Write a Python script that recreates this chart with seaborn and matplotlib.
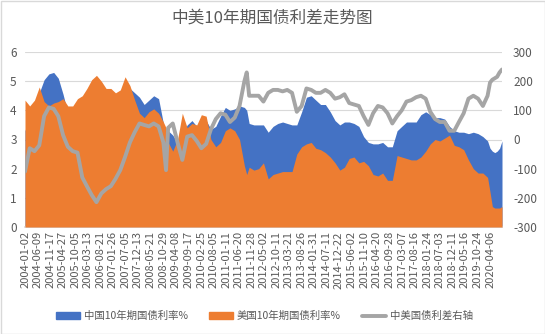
import matplotlib
matplotlib.use("Agg")
import matplotlib.pyplot as plt
from matplotlib.patches import Patch, Rectangle
from matplotlib.lines import Line2D
import seaborn as sns
import pandas as pd

dates = ["2004-01-01","2004-03-01","2004-05-01","2004-07-01","2004-09-01","2004-11-01",
         "2005-01-01","2005-03-01","2005-05-01","2005-07-01","2005-09-01","2005-11-01",
         "2006-01-01","2006-03-01","2006-05-01","2006-07-01","2006-09-01","2006-11-01",
         "2007-01-01","2007-03-01","2007-05-01","2007-07-01","2007-09-01","2007-11-01",
         "2008-01-01","2008-03-01","2008-05-01","2008-07-01","2008-09-01","2008-11-01","2008-12-05",
         "2009-01-01","2009-03-01","2009-05-01","2009-07-01","2009-09-01","2009-11-01",
         "2010-01-01","2010-03-01","2010-05-01","2010-07-01","2010-09-01","2010-11-01",
         "2011-01-01","2011-03-01","2011-05-01","2011-07-01","2011-09-01","2011-10-01","2011-11-01",
         "2012-01-01","2012-03-01","2012-05-01","2012-07-01","2012-09-01","2012-11-01",
         "2013-01-01","2013-03-01","2013-05-01","2013-07-01","2013-09-01","2013-11-01",
         "2014-01-01","2014-03-01","2014-05-01","2014-07-01","2014-09-01","2014-11-01",
         "2015-01-01","2015-03-01","2015-05-01","2015-07-01","2015-09-01","2015-11-01",
         "2016-01-01","2016-03-01","2016-05-01","2016-07-01","2016-09-01","2016-11-01",
         "2017-01-01","2017-03-01","2017-05-01","2017-07-01","2017-09-01","2017-11-01",
         "2018-01-01","2018-03-01","2018-05-01","2018-07-01","2018-09-01","2018-11-01",
         "2019-01-01","2019-03-01","2019-05-01","2019-07-01","2019-09-01","2019-11-01",
         "2020-01-01","2020-03-01","2020-04-01","2020-05-01","2020-06-01","2020-07-01",
         "2020-08-01","2020-09-01"]

us_10y = [4.35,4.15,4.35,4.80,4.30,4.15,
          4.25,4.30,4.40,4.15,4.15,4.40,
          4.50,4.75,5.05,5.20,5.00,4.75,
          4.75,4.60,4.70,5.15,4.85,4.35,
          3.90,3.75,3.95,4.05,3.90,3.60,3.40,
          2.90,2.60,3.00,3.90,3.40,3.55,
          3.50,3.85,3.80,3.00,2.75,2.90,
          3.30,3.40,3.30,3.00,2.10,1.80,2.05,
          1.95,2.00,2.20,1.65,1.80,1.85,
          1.90,1.90,1.90,2.50,2.75,2.85,
          2.90,2.70,2.65,2.55,2.40,2.20,
          1.95,2.05,2.35,2.40,2.20,2.25,
          2.10,1.80,1.75,1.85,1.60,1.60,
          2.45,2.40,2.35,2.30,2.30,2.40,
          2.60,2.85,3.00,2.95,3.05,3.15,
          2.80,2.75,2.65,2.30,2.00,1.85,
          1.85,1.70,1.20,0.70,0.65,0.65,
          0.65,0.70]

cn_10y = [3.30,3.85,3.95,4.60,5.05,5.25,
          5.30,5.10,4.55,3.90,3.75,3.95,
          3.20,3.15,3.15,3.05,3.15,3.05,
          3.15,3.25,3.65,4.55,4.75,4.60,
          4.45,4.20,4.35,4.50,4.40,3.55,2.60,
          3.30,3.15,2.90,3.20,3.50,3.65,
          3.45,3.55,3.65,3.35,3.45,3.80,
          4.10,4.00,4.05,4.15,4.10,4.00,3.55,
          3.50,3.50,3.50,3.25,3.45,3.55,
          3.60,3.55,3.50,3.50,3.95,4.45,
          4.50,4.35,4.20,4.20,3.95,3.65,
          3.50,3.60,3.60,3.55,3.45,3.10,
          2.90,2.85,2.85,2.90,2.75,2.75,
          3.30,3.45,3.60,3.60,3.60,3.85,
          3.95,3.85,3.75,3.75,3.70,3.45,
          3.30,3.25,3.25,3.20,3.25,3.20,
          3.10,2.95,2.70,2.60,2.55,2.60,
          2.70,2.95]

spread_bp = [-110,-30,-40,-20,80,110,
             105,80,15,-25,-40,-45,
             -130,-160,-190,-215,-185,-170,
             -160,-135,-105,-60,-10,25,
             55,50,45,55,45,-10,-105,
             40,55,-10,-70,10,15,
             -5,-30,-15,35,70,90,
             85,60,75,115,200,230,150,
             150,150,130,160,170,170,
             165,170,160,95,115,175,
             170,160,160,170,160,140,
             145,155,125,120,115,80,
             50,90,115,110,90,55,
             80,100,130,135,145,150,
             140,95,70,60,60,30,
             30,60,90,140,150,140,
             115,150,195,205,210,215,
             230,240]

tick_labels = ["2004-01-02","2004-06-09","2004-11-17","2005-04-27","2005-10-05","2006-03-13",
               "2006-08-21","2007-01-26","2007-07-05","2007-12-13","2008-05-21","2008-10-29",
               "2009-04-08","2009-09-17","2010-02-25","2010-08-05","2011-01-11","2011-06-20",
               "2011-11-28","2012-05-02","2012-10-11","2013-03-21","2013-08-26","2014-01-31",
               "2014-07-11","2014-12-22","2015-06-02","2015-11-10","2016-04-20","2016-09-28",
               "2017-03-07","2017-08-16","2018-01-24","2018-07-03","2018-12-11","2019-05-16",
               "2019-10-24","2020-04-06"]

title = "中美10年期国债利差走势图"
names = ["中国10年期国债利率%", "美国10年期国债利率%", "中美国债利差右轴"]
colors = ["#4472C4", "#ED7D31", "#A5A5A5"]

sns.set_theme(style="white")
plt.rcParams["font.family"] = ["Noto Sans CJK SC", "DejaVu Sans"]
plt.rcParams["axes.unicode_minus"] = False

df = pd.DataFrame({"date": pd.to_datetime(dates), "cn": cn_10y, "us": us_10y, "spread": spread_bp})

fig = plt.figure(figsize=(5.45, 3.34), dpi=100)
ax = fig.add_axes([25/545, 1-227/334, 477/545, 175/334])
txt = "#595959"

ax.fill_between(df["date"], 0, df["cn"], color=colors[0], linewidth=0, zorder=2)
ax.fill_between(df["date"], 0, df["us"], color=colors[1], linewidth=0, zorder=3)
ax.set_ylim(0, 6)
ax.set_yticks(range(0, 7))
ax.yaxis.grid(True, color="#D9D9D9", linewidth=0.8)
ax.set_axisbelow(True)
ax.set_xlim(df["date"].iloc[0], df["date"].iloc[-1])
ax.set_xticks(pd.to_datetime(tick_labels))
ax.set_xticklabels(tick_labels, rotation=90, fontsize=8, color=txt)
ax.tick_params(axis="y", labelsize=8.5, labelcolor=txt, length=0, pad=6)
ax.tick_params(axis="x", length=0, pad=3)
for s in ["top", "right", "left"]:
    ax.spines[s].set_visible(False)
ax.spines["bottom"].set_color("#D9D9D9")
ax.set_xlabel("")
ax.set_ylabel("")

ax2 = ax.twinx()
sns.lineplot(data=df, x="date", y="spread", ax=ax2, color=colors[2], linewidth=2.8, zorder=5)
ax2.set_ylim(-300, 300)
ax2.set_yticks(range(-300, 301, 100))
ax2.tick_params(axis="y", labelsize=8.5, labelcolor=txt, length=0, pad=8)
for s in ["top", "right", "left", "bottom"]:
    ax2.spines[s].set_visible(False)
ax2.set_xlabel("")
ax2.set_ylabel("")
ax2.set_xlim(df["date"].iloc[0], df["date"].iloc[-1])

fig.text(0.5, 1-18/334, title, ha="center", va="center", fontsize=12, color=txt)

handles = [Patch(color=colors[0]), Patch(color=colors[1]),
           Line2D([0], [0], color=colors[2], linewidth=2.8)]
fig.legend(handles, names, loc="center", bbox_to_anchor=(0.485, 1-316/334), ncol=3,
           frameon=False, fontsize=7.5, labelcolor=txt, handlelength=2.3, handleheight=0.55,
           handletextpad=0.4, columnspacing=2.0)

fig.patches.append(Rectangle((0.5/545, 0.5/334), 1-1/545, 1-1/334, transform=fig.transFigure,
                             fill=False, edgecolor="#D9D9D9", linewidth=1))

fig.savefig("out.png", dpi=100)
